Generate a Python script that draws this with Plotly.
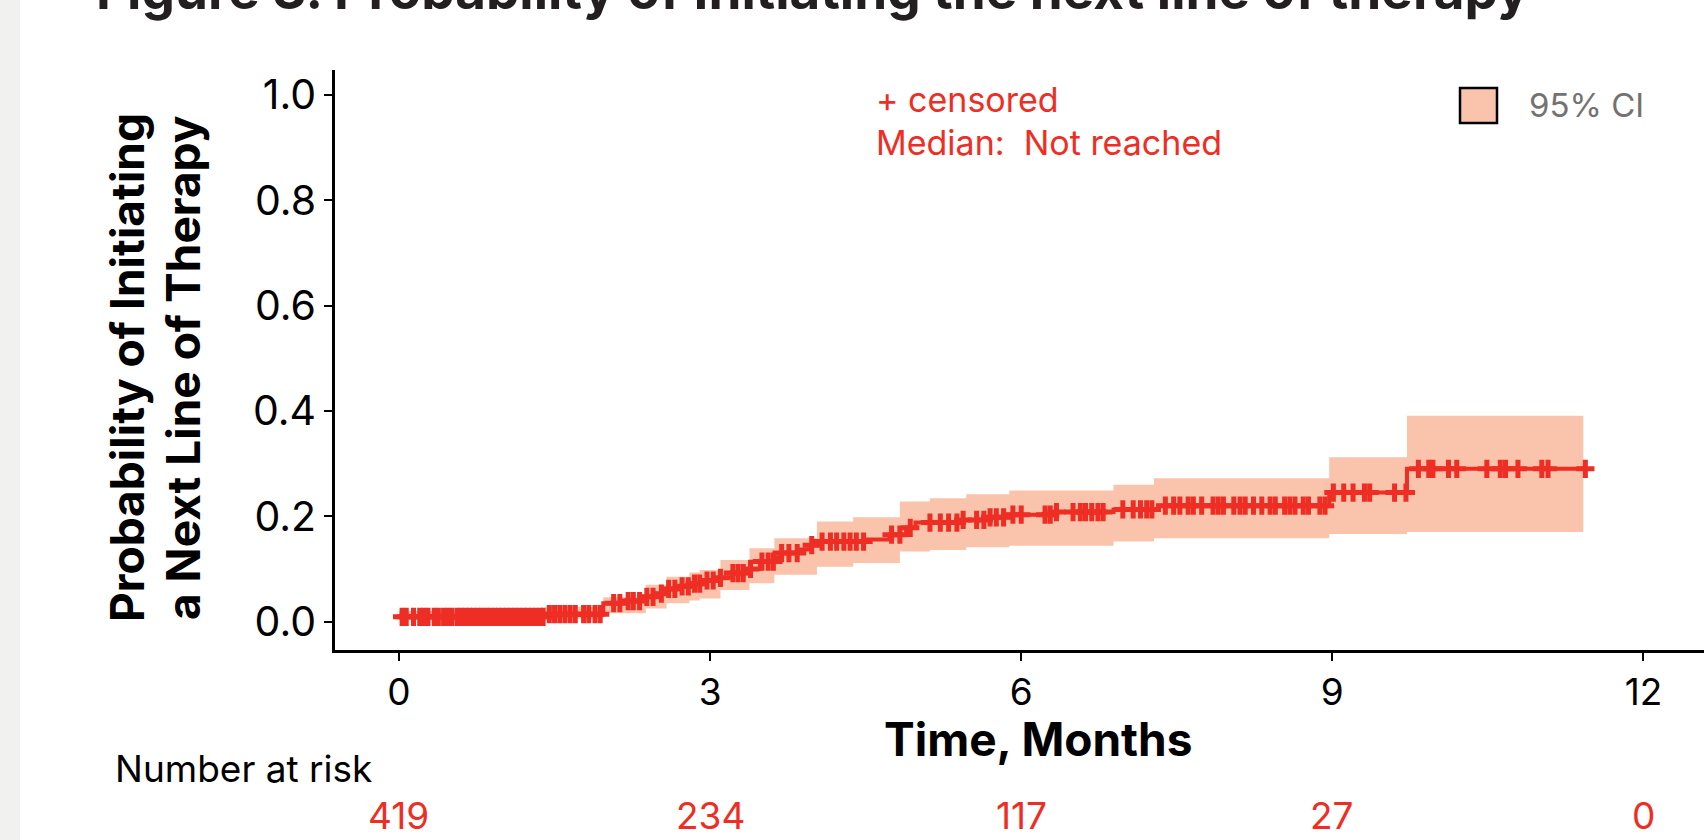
import plotly.graph_objects as go
import bisect

# ---------------- data ----------------
event_times = [0, 1.41, 1.97, 2.15, 2.38, 2.47, 2.58, 2.70, 2.80, 2.95, 3.10, 3.22, 3.38, 3.48,
               3.62, 3.68, 3.87, 3.97, 4.06, 4.51, 4.73, 4.89, 4.98, 5.40, 5.65, 5.88, 6.30,
               6.89, 7.32, 8.97, 9.72]
cum_inc = [0.009, 0.014, 0.035, 0.039, 0.047, 0.053, 0.062, 0.067, 0.072, 0.078, 0.083, 0.092,
           0.100, 0.114, 0.122, 0.130, 0.137, 0.145, 0.152, 0.156, 0.165, 0.178, 0.188, 0.193,
           0.198, 0.203, 0.208, 0.213, 0.220, 0.245, 0.290]
end_time = 11.44

ci_times = [0, 1.41, 1.97, 2.38, 2.58, 2.80, 2.90, 3.10, 3.38, 3.62, 4.03, 4.38, 4.83, 5.12,
            5.47, 5.885, 6.89, 7.28, 8.97, 9.72]
ci_lower = [0.003, 0.006, 0.016, 0.025, 0.035, 0.040, 0.044, 0.060, 0.073, 0.089, 0.104, 0.111,
            0.133, 0.136, 0.141, 0.144, 0.152, 0.158, 0.1665, 0.170]
ci_upper = [0.020, 0.028, 0.046, 0.070, 0.085, 0.093, 0.098, 0.117, 0.139, 0.158, 0.190, 0.198,
            0.228, 0.234, 0.242, 0.249, 0.260, 0.272, 0.312, 0.391]
ci_end = 11.42

censor_times = [0.03, 0.07, 0.14, 0.20, 0.24, 0.28, 0.34, 0.38, 0.43, 0.47, 0.51, 0.56, 0.60,
                0.64, 0.68, 0.72, 0.76, 0.80, 0.84, 0.88, 0.92, 0.96, 1.00, 1.04, 1.08, 1.12,
                1.16, 1.20, 1.24, 1.28, 1.32, 1.36, 1.39, 1.45, 1.50, 1.55, 1.60, 1.65, 1.70,
                1.78, 1.83, 1.89, 1.94, 2.07, 2.13, 2.21, 2.26, 2.32, 2.39, 2.45,
                2.53, 2.60, 2.66, 2.73, 2.79, 2.85, 2.90, 2.97, 3.03, 3.10, 3.22, 3.27, 3.32,
                3.39, 3.50, 3.56, 3.61, 3.69, 3.76, 3.84, 3.98, 4.08, 4.16, 4.22, 4.29, 4.35,
                4.41, 4.48, 4.75, 4.83, 4.93, 5.12, 5.22, 5.30, 5.38, 5.44, 5.57, 5.64, 5.70,
                5.76, 5.83, 5.92, 6.00, 6.23, 6.28, 6.34, 6.50, 6.57, 6.62, 6.68, 6.74, 6.79,
                6.98, 7.08, 7.15, 7.21, 7.26, 7.39, 7.47, 7.53, 7.61, 7.66, 7.74, 7.85, 7.90,
                7.95, 8.05, 8.11, 8.16, 8.24, 8.32, 8.40, 8.45, 8.54, 8.59, 8.64, 8.72, 8.77,
                8.88, 8.93, 9.01, 9.11, 9.20, 9.31, 9.36, 9.60, 9.71, 9.83, 9.93, 9.97, 10.12,
                10.20, 10.49, 10.62, 10.67, 10.79, 11.02, 11.08, 11.44]

x_ticks = [0, 3, 6, 9, 12]
y_ticks = [0.0, 0.2, 0.4, 0.6, 0.8, 1.0]
at_risk = [419, 234, 117, 27, 0]

# ---------------- styles ----------------
RED = "#EE2E24"
CI_FILL = "#FAC3AB"
FONT = "Inter"
W, H = 1704, 840
L, R, T, B = 335, 0, 70, 190
PW, PH = W - L - R, H - T - B


def px_x(x):
    return (x - L) / PW


def px_y(y):
    return (H - B - y) / PH


def level_at(t):
    i = bisect.bisect_right(event_times, t) - 1
    return cum_inc[max(i, 0)]


fig = go.Figure()

# CI band (step)
fig.add_trace(go.Scatter(x=ci_times + [ci_end], y=ci_lower + [ci_lower[-1]], mode="lines",
                         line=dict(shape="hv", width=0, color=CI_FILL), showlegend=False,
                         hoverinfo="skip"))
fig.add_trace(go.Scatter(x=ci_times + [ci_end], y=ci_upper + [ci_upper[-1]], mode="lines",
                         line=dict(shape="hv", width=0, color=CI_FILL), fill="tonexty",
                         fillcolor=CI_FILL, name="95% CI", showlegend=False, hoverinfo="skip"))

# step curve
fig.add_trace(go.Scatter(x=event_times + [end_time], y=cum_inc + [cum_inc[-1]], mode="lines",
                         line=dict(shape="hv", width=4, color=RED), showlegend=False))

# censor marks
fig.add_trace(go.Scatter(x=censor_times, y=[level_at(t) for t in censor_times], mode="markers",
                         marker=dict(symbol="cross-thin", size=13, color=RED,
                                     line=dict(width=5, color=RED)),
                         showlegend=False))

ann = []
# title (partly cut off at the top)
ann.append(dict(text="<b>Figure 3. Probability of Initiating the next line of therapy</b>",
                xref="paper", yref="paper", x=px_x(94), y=px_y(24), xanchor="left",
                yanchor="bottom", showarrow=False, font=dict(family=FONT, size=53, color="#231F20")))
# y title
ann.append(dict(text="<b>Probability of Initiating</b>", textangle=-90, xref="paper",
                yref="paper", x=px_x(127), y=px_y(368), xanchor="center", yanchor="middle",
                showarrow=False, font=dict(family=FONT, size=46, color="black")))
ann.append(dict(text="<b>a Next Line of Therapy</b>", textangle=-90, xref="paper",
                yref="paper", x=px_x(183), y=px_y(368), xanchor="center", yanchor="middle",
                showarrow=False, font=dict(family=FONT, size=46, color="black")))
# x title
ann.append(dict(text="<b>Time, Months</b>", xref="paper", yref="paper", x=px_x(1038),
                y=px_y(739), xanchor="center", yanchor="middle", showarrow=False,
                font=dict(family=FONT, size=46, color="black")))
# number at risk
ann.append(dict(text="Number at risk", xref="paper", yref="paper", x=px_x(113), y=px_y(768),
                xanchor="left", yanchor="middle", showarrow=False,
                font=dict(family=FONT, size=37, color="black")))
for t, n in zip(x_ticks, at_risk):
    ann.append(dict(text=str(n), xref="x", yref="paper", x=t, y=px_y(815), xanchor="center",
                    yanchor="middle", showarrow=False, font=dict(family=FONT, size=37, color=RED)))
# censored / median text
ann.append(dict(text="+ censored", xref="paper", yref="paper", x=px_x(874), y=px_y(99),
                xanchor="left", yanchor="middle", showarrow=False,
                font=dict(family=FONT, size=34, color=RED)))
ann.append(dict(text="Median:  Not reached", xref="paper", yref="paper", x=px_x(874),
                y=px_y(142), xanchor="left", yanchor="middle", showarrow=False,
                font=dict(family=FONT, size=34, color=RED)))
# legend label
ann.append(dict(text="95% CI", xref="paper", yref="paper", x=px_x(1527), y=px_y(105),
                xanchor="left", yanchor="middle", showarrow=False,
                font=dict(family=FONT, size=33, color="#767171")))

shapes = [
    dict(type="rect", xref="paper", yref="paper", x0=px_x(0), x1=px_x(20), y0=px_y(H),
         y1=px_y(0), fillcolor="#F1F1EF", line=dict(width=0), layer="below"),
    dict(type="rect", xref="paper", yref="paper", x0=px_x(1460), x1=px_x(1497), y0=px_y(123),
         y1=px_y(88), fillcolor=CI_FILL, line=dict(width=2.5, color="black")),
]

fig.update_layout(
    width=W, height=H, margin=dict(l=L, r=R, t=T, b=B, pad=0),
    paper_bgcolor="white", plot_bgcolor="white",
    annotations=ann, shapes=shapes, showlegend=False,
    xaxis=dict(range=[-0.617, 12.584], tickvals=x_ticks, ticktext=[str(v) for v in x_ticks],
               showgrid=False, zeroline=False, showline=True, linecolor="black", linewidth=2.5,
               ticks="outside", ticklen=8, tickwidth=2, tickcolor="black",
               tickfont=dict(family=FONT, size=37, color="black")),
    yaxis=dict(range=[-0.054, 1.0475], tickvals=y_ticks,
               ticktext=["%.1f" % v for v in y_ticks],
               showgrid=False, zeroline=False, showline=True, linecolor="black", linewidth=2.5,
               ticks="outside", ticklen=8, tickwidth=2, tickcolor="black",
               tickfont=dict(family=FONT, size=41, color="black")),
)

fig.write_html("out.html", config={"displayModeBar": False},
               post_script="document.body.style.margin='0px';document.body.style.overflow='hidden';")
